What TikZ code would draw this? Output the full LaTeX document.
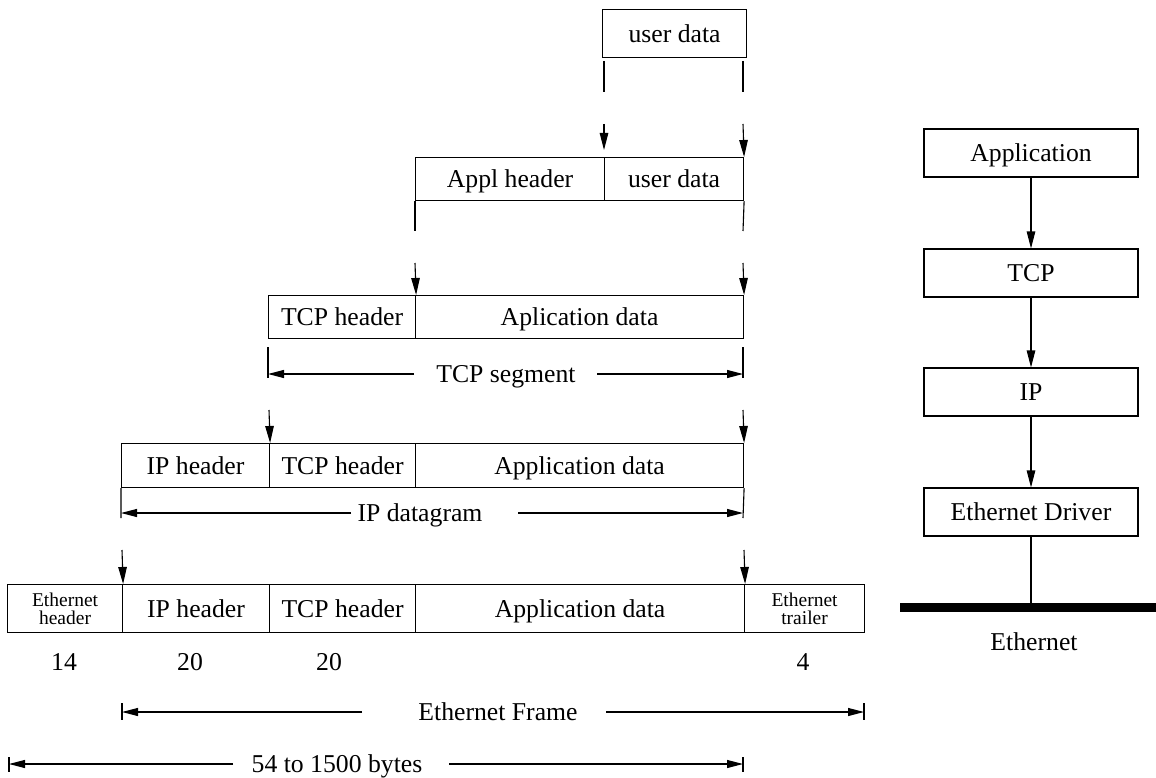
\documentclass[tikz,border=0pt]{standalone}
\usepackage{fontspec}
\setmainfont{Liberation Serif}
\usetikzlibrary{arrows.meta}

\tikzset{
    cell/.style={draw, anchor=north west, inner sep=0pt, minimum height=#1,
        text height=17pt, text depth=0pt},
    cell/.default=48pt,
    twoline/.style={font=\fontsize{19.5}{18}\selectfont, align=center,
        text height=, text depth=},
    layer/.style={draw, minimum width=214pt, minimum height=48pt, inner sep=0pt,
        text height=17pt, text depth=0pt},
    lbl/.style={inner sep=0pt, text height=17pt, text depth=0pt},
    feed/.style={-{Triangle[length=17pt, width=8.5pt]}},
    dimarr/.style={-{Triangle[length=16pt, width=8pt]}}
}

\begin{document}
\begin{tikzpicture}[x=1pt, y=-1pt, line width=1.1pt, font=\fontsize{25.7}{30}\selectfont]
    \useasboundingbox (0,0) rectangle (1156,778);

    % Данные пользователя
    \node[cell, minimum width=144pt] (ud) at (602,9) {user data};

    % Заголовок приложения
    \node[cell=43pt, minimum width=189pt] (applH) at (415,157) {Appl header};
    \node[cell=43pt, minimum width=139pt] (applD) at (604,157) {user data};
    \coordinate (applL) at (415,231);
    \coordinate (applR) at (743,231);
    \draw (applH.south west) -- (applL);
    \draw (applD.south east) -- (applR);

    \coordinate (u1) at (604,61);  \coordinate (u2) at (604,92);
    \coordinate (u3) at (604,124); \coordinate (u4) at (604,150);
    \coordinate (v1) at (743,61);  \coordinate (v2) at (743,92);
    \coordinate (v3) at (743,124);
    \draw (u1) -- (u2); \draw[feed] (u3) -- (u4);
    \draw (v1) -- (v2); \draw[feed] (v3) -- (applD.north east);

    % TCP
    \node[cell=43pt, minimum width=147pt] (tcpH) at (268,295) {TCP header};
    \node[cell=43pt, minimum width=328pt] (tcpD) at (415,295) {Aplication data};
    \coordinate (t1) at (415,263); \coordinate (t2) at (743,263);
    \draw[feed] (t1) -- (tcpH.north east);
    \draw[feed] (t2) -- (tcpD.north east);

    \draw (268,347) -- (268,378) (743,347) -- (743,378);
    \node[lbl] (segLbl) at (506,374) {TCP segment};
    \coordinate (segL) at (268,374);  \coordinate (segR) at (743,374);
    \coordinate (segLi) at (414,374); \coordinate (segRi) at (597,374);
    \draw[dimarr] (segLi) -- (segL);
    \draw[dimarr] (segRi) -- (segR);

    % IP
    \node[cell=44pt, minimum width=148pt] (ipH) at (121,443) {IP header};
    \node[cell=44pt, minimum width=146pt] (ipT) at (269,443) {TCP header};
    \node[cell=44pt, minimum width=328pt] (ipD) at (415,443) {Application data};
    \coordinate (i1) at (269,410); \coordinate (i2) at (743,410);
    \draw[feed] (i1) -- (ipH.north east);
    \draw[feed] (i2) -- (ipD.north east);

    \coordinate (dgL) at (121,513);  \coordinate (dgR) at (743,513);
    \coordinate (dgLi) at (351,513); \coordinate (dgRi) at (518,513);
    \draw (ipH.south west) -- (121,518) (ipD.south east) -- (743,518);
    \node[lbl] (dgLbl) at (420,513) {IP datagram};
    \draw[dimarr] (dgLi) -- (dgL);
    \draw[dimarr] (dgRi) -- (dgR);

    % Ethernet
    \node[cell, twoline, minimum width=115pt] (ethH) at (7,584) {Ethernet\\header};
    \node[cell, minimum width=147pt] (ethIP) at (122,584) {IP header};
    \node[cell, minimum width=146pt] (ethTCP) at (269,584) {TCP header};
    \node[cell, minimum width=329pt] (ethD) at (415,584) {Application data};
    \node[cell, twoline, minimum width=120pt] (ethT) at (744,584) {Ethernet\\trailer};
    \coordinate (e1) at (122,550); \coordinate (e2) at (744,550);
    \draw[feed] (e1) -- (ethH.north east);
    \draw[feed] (e2) -- (ethD.north east);

    % Размеры в байтах
    \foreach \x/\n [count=\i] in {64/14, 190/20, 329/20, 803/4}
        \node[lbl] (num\i) at (\x,662) {\n};

    \draw (122,703) -- (122,720) (864,703) -- (864,720);
    \node[lbl] (frLbl) at (498,712) {Ethernet Frame};
    \coordinate (frL) at (122,712);  \coordinate (frR) at (864,712);
    \coordinate (frLi) at (362,712); \coordinate (frRi) at (606,712);
    \draw[dimarr] (frLi) -- (frL);
    \draw[dimarr] (frRi) -- (frR);

    \draw (9,757) -- (9,772) (743,757) -- (743,772);
    \node[lbl] (byLbl) at (337,764) {54 to 1500 bytes};
    \coordinate (byL) at (9,764);    \coordinate (byR) at (743,764);
    \coordinate (byLi) at (233,764); \coordinate (byRi) at (449,764);
    \draw[dimarr] (byLi) -- (byL);
    \draw[dimarr] (byRi) -- (byR);

    % Стек протоколов
    \node[layer] (app) at (1031,153) {Application};
    \node[layer] (tcp) at (1031,273) {TCP};
    \node[layer] (ip)  at (1031,392) {IP};
    \node[layer] (drv) at (1031,512) {Ethernet Driver};
    \draw[feed] (app) -- (tcp);
    \draw[feed] (tcp) -- (ip);
    \draw[feed] (ip) -- (drv);

    \coordinate (busL) at (900,607.5); \coordinate (busR) at (1156,607.5);
    \draw[line width=9pt] (busL) -- (busR);
    \draw (drv.south) -- (drv.south |- busL);
    \node[lbl] (bus) at (1034,642) {Ethernet};
\end{tikzpicture}
\end{document}
